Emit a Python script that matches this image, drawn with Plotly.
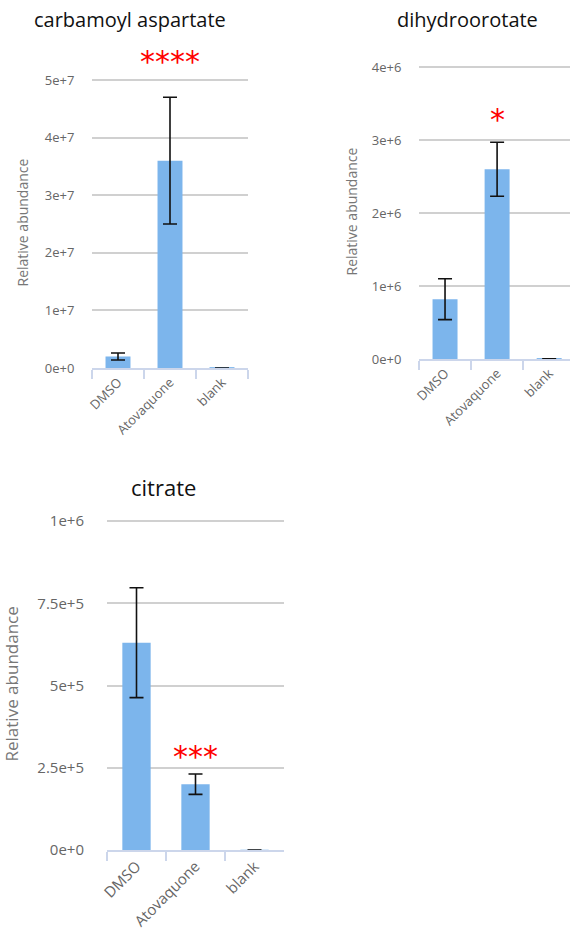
import plotly.graph_objects as go

categories = ["DMSO", "Atovaquone", "blank"]

# carbamoyl aspartate
ca_values = [2.0e6, 3.6e7, 1.0e4]
ca_errors = [0.6e6, 1.1e7, 1.0e3]
ca_ticks = [0, 1e7, 2e7, 3e7, 4e7, 5e7]
ca_ticktext = ["0e+0", "1e+7", "2e+7", "3e+7", "4e+7", "5e+7"]

# dihydroorotate
dh_values = [0.82e6, 2.6e6, 1.0e3]
dh_errors = [0.28e6, 0.37e6, 1.0e2]
dh_ticks = [0, 1e6, 2e6, 3e6, 4e6]
dh_ticktext = ["0e+0", "1e+6", "2e+6", "3e+6", "4e+6"]

# citrate
ci_values = [6.3e5, 2.0e5, 1.0e2]
ci_errors = [1.67e5, 0.31e5, 1.0e1]
ci_ticks = [0, 2.5e5, 5e5, 7.5e5, 1e6]
ci_ticktext = ["0e+0", "2.5e+5", "5e+5", "7.5e+5", "1e+6"]

titles = ["carbamoyl aspartate", "dihydroorotate", "citrate"]
stars = ["****", "*", "***"]

W, H = 570, 931
BAR = "#7cb5ec"
AXLINE = "#ccd6eb"
GRID = "#d0d0d0"
TICKC = "#666666"
FONT = "Open Sans, Lato, sans-serif"


def ydom(py0, pytop, vmax, ymax):
    # pixel of zero line, pixel of the vmax gridline; extend to ymax
    per = (py0 - pytop) / vmax
    top = py0 - ymax * per
    return [1 - py0 / H, 1 - top / H]


panels = [
    dict(vals=ca_values, errs=ca_errors, ticks=ca_ticks, tt=ca_ticktext,
         xdom=[92 / W, 248 / W], ydom=ydom(368, 80, 5e7, 5.05e7), yr=[0, 5.05e7],
         xr=[-0.5, 2.5], fs=13, tfs=14, cap=7, ylen=14, so=12),
    dict(vals=dh_values, errs=dh_errors, ticks=dh_ticks, tt=dh_ticktext,
         xdom=[419 / W, 1.0], ydom=ydom(359, 67, 4e6, 4.04e6), yr=[0, 4.04e6],
         xr=[-0.5, 2.40], fs=13, tfs=14, cap=7, ylen=14, so=10),
    dict(vals=ci_values, errs=ci_errors, ticks=ci_ticks, tt=ci_ticktext,
         xdom=[107 / W, 284 / W], ydom=ydom(850, 521, 1e6, 1.01e6), yr=[0, 1.01e6],
         xr=[-0.5, 2.5], fs=15, tfs=17, cap=7, ylen=19, so=14),
]

fig = go.Figure()
layout_axes = {}
for i, p in enumerate(panels):
    n = "" if i == 0 else str(i + 1)
    fig.add_trace(go.Bar(
        x=categories, y=p["vals"], xaxis="x" + n, yaxis="y" + n,
        marker=dict(color=BAR, line=dict(width=0)), width=0.48,
        error_y=dict(type="data", array=p["errs"], visible=True,
                     color="#111111", thickness=1.6, width=p["cap"]),
        showlegend=False, hoverinfo="skip",
    ))
    layout_axes["xaxis" + n] = dict(
        domain=p["xdom"], anchor="y" + n, type="category", range=p["xr"],
        showline=True, linecolor=AXLINE, linewidth=1.5,
        ticks="outside", tickson="boundaries", ticklen=9, tickcolor=AXLINE,
        tickwidth=1.5, tickangle=-45, showgrid=False, automargin=False,
        tickfont=dict(family=FONT, size=p["fs"], color=TICKC),
        fixedrange=True,
    )
    layout_axes["yaxis" + n] = dict(
        domain=p["ydom"], anchor="x" + n, range=p["yr"],
        tickvals=p["ticks"], ticktext=p["tt"], showgrid=True, gridcolor=GRID,
        gridwidth=1.5, zeroline=False, showline=False,
        ticks="outside", ticklen=p["ylen"], tickcolor="rgba(0,0,0,0)",
        automargin=False,
        tickfont=dict(family=FONT, size=p["fs"], color=TICKC),
        title=dict(text="Relative abundance",
                   font=dict(family=FONT, size=p["tfs"], color="#777777"),
                   standoff=p["so"]),
        fixedrange=True,
    )

fig.update_layout(**layout_axes)

title_pos = [(130, 20), (467, 20), (163, 487)]
title_sizes = [20, 20, 22]
star_py = [58, 115, 752]
annotations = []
for t, (px, py), fs in zip(titles, title_pos, title_sizes):
    annotations.append(dict(
        text=t, x=px / W, y=1 - py / H, xref="paper", yref="paper",
        xanchor="center", yanchor="middle", showarrow=False,
        font=dict(family=FONT, size=fs, color="#111111"),
    ))
for i, (s, py) in enumerate(zip(stars, star_py)):
    n = "" if i == 0 else str(i + 1)
    annotations.append(dict(
        text=s, x="Atovaquone", y=1 - (py + 4) / H, xref="x" + n, yref="paper",
        xanchor="center", yanchor="middle", showarrow=False,
        font=dict(family="DejaVu Sans, sans-serif", size=30, color="#ff0000"),
    ))

fig.update_layout(
    width=W, height=H, margin=dict(l=0, r=0, t=0, b=0, autoexpand=False),
    paper_bgcolor="white", plot_bgcolor="white",
    bargap=0.52, annotations=annotations,
)

fig.write_html(
    "out.html", config=dict(displayModeBar=False),
    post_script="document.body.style.margin='0';document.body.style.overflow='hidden';",
)
